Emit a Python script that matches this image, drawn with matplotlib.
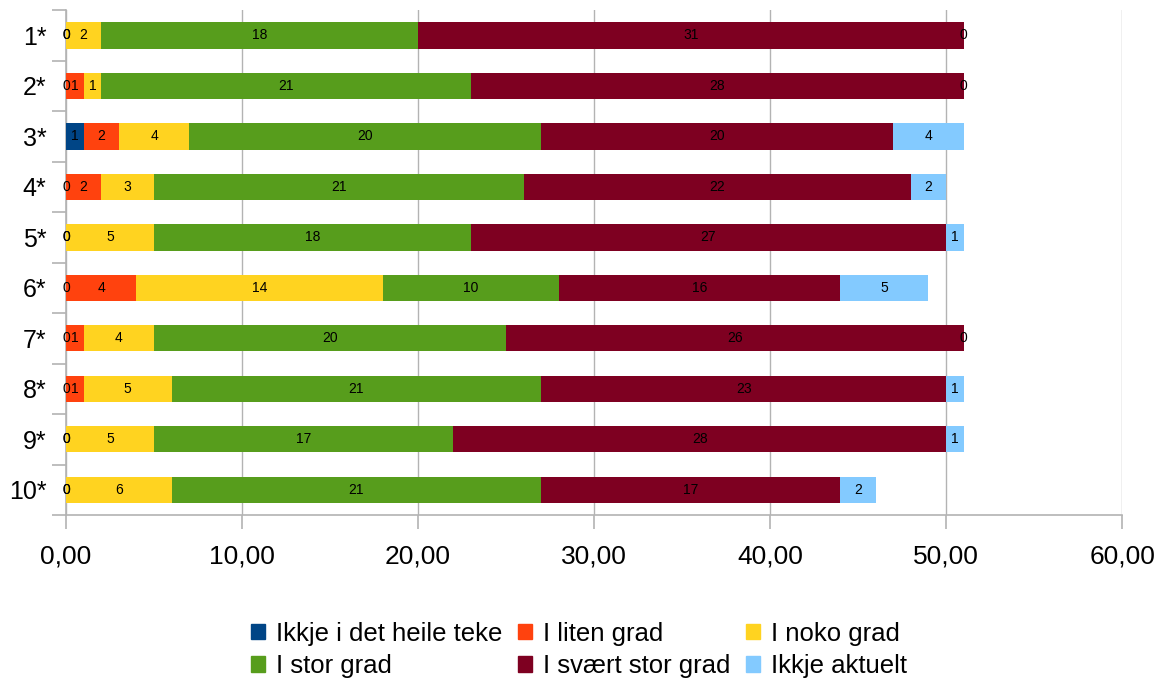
import numpy as np
import matplotlib.pyplot as plt
from matplotlib.patches import Patch
from matplotlib.ticker import FuncFormatter

plt.rcParams['font.family'] = ['Liberation Sans', 'DejaVu Sans']

categories = ['1*', '2*', '3*', '4*', '5*', '6*', '7*', '8*', '9*', '10*']
series = ['Ikkje i det heile teke', 'I liten grad', 'I noko grad',
          'I stor grad', 'I svært stor grad', 'Ikkje aktuelt']
ikkje = [0, 0, 1, 0, 0, 0, 0, 0, 0, 0]
liten = [0, 1, 2, 2, 0, 4, 1, 1, 0, 0]
noko = [2, 1, 4, 3, 5, 14, 4, 5, 5, 6]
stor = [18, 21, 20, 21, 18, 10, 20, 21, 17, 21]
svaert = [31, 28, 20, 22, 27, 16, 26, 23, 28, 17]
aktuelt = [0, 0, 4, 2, 1, 5, 0, 1, 1, 2]
colors = ['#004586', '#ff420e', '#ffd320', '#579d1c', '#7e0021', '#83caff']

data = [ikkje, liten, noko, stor, svaert, aktuelt]

fig = plt.figure(figsize=(11.58, 6.84), dpi=100)
ax = fig.add_axes([0.057, 0.247, 0.912, 0.738])

y = np.arange(len(categories))
left = np.zeros(len(categories))
for vals, name, col in zip(data, series, colors):
    vals = np.array(vals, dtype=float)
    ax.barh(y, vals, left=left, height=0.52, color=col, label=name, zorder=3)
    for yi, l, v in zip(y, left, vals):
        ax.text(l + v / 2, yi, str(int(v)), ha='center', va='center',
                fontsize=10, color='black', zorder=4)
    left += vals

ax.set_xlim(0, 60)
ax.set_ylim(len(categories) - 0.5, -0.5)
ax.set_xticks(np.arange(0, 61, 10))
ax.xaxis.set_major_formatter(FuncFormatter(lambda v, p: ('%.2f' % v).replace('.', ',')))
ax.set_yticks(y)
ax.set_yticklabels(categories)
ax.set_yticks(np.arange(-0.5, len(categories), 1), minor=True)
ax.tick_params(axis='y', which='major', length=0, labelsize=18, pad=14)
ax.tick_params(axis='y', which='minor', length=10, color='#b3b3b3', width=1.2)
ax.tick_params(axis='x', which='major', length=10, color='#b3b3b3', width=1.2,
               labelsize=19, pad=11)
ax.grid(axis='x', color='#b3b3b3', linewidth=1, zorder=0)
for s in ['top', 'right']:
    ax.spines[s].set_visible(False)
for s in ['left', 'bottom']:
    ax.spines[s].set_color('#b3b3b3')
    ax.spines[s].set_linewidth(1.2)

handles = [Patch(color=c) for c in colors]
order = [0, 3, 1, 4, 2, 5]
fig.legend([handles[i] for i in order], [series[i] for i in order], ncol=3,
           loc='center', bbox_to_anchor=(0.5, 0.05), frameon=False, fontsize=18.5,
           handlelength=0.55, handleheight=0.55, handletextpad=0.43,
           columnspacing=0.6, labelspacing=0.33, borderpad=0.1)

fig.savefig('out.png', dpi=100)
